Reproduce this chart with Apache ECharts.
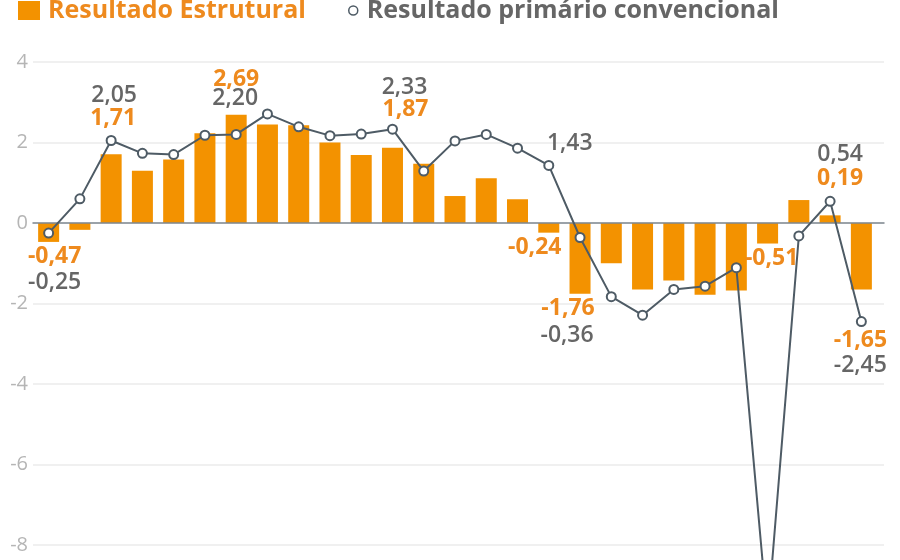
<!DOCTYPE html>
<html>
<head>
<meta charset="utf-8">
<script src="https://cdn.jsdelivr.net/npm/echarts@6/dist/echarts.min.js"></script>
<style>
html, body { margin: 0; padding: 0; background: #fff; }
#chart { width: 900px; height: 560px; }
</style>
</head>
<body>
<div id="chart"></div>
<script>
// Dados (% do PIB)
var anos = ['1997','1998','1999','2000','2001','2002','2003','2004','2005','2006','2007','2008','2009',
            '2010','2011','2012','2013','2014','2015','2016','2017','2018','2019','2020','2021','2022','2023'];
var estrutural = [-0.47, -0.17, 1.71, 1.30, 1.58, 2.23, 2.69, 2.45, 2.43, 2.00, 1.69, 1.87, 1.47,
                  0.67, 1.11, 0.59, -0.24, -1.76, -1.00, -1.65, -1.43, -1.78, -1.68, -0.51, 0.57, 0.19, -1.65];
var convencional = [-0.25, 0.60, 2.05, 1.73, 1.70, 2.18, 2.20, 2.71, 2.39, 2.17, 2.21, 2.33, 1.29,
                    2.04, 2.20, 1.86, 1.43, -0.36, -1.83, -2.29, -1.65, -1.57, -1.11, -9.80, -0.32, 0.54, -2.45];
var eixoY = { min: -10, max: 4, intervalo: 2 };

var LARANJA = '#F39200';
var LARANJA_TXT = '#EE8A1E';
var CINZA_TXT = '#666666';
var LINHA = '#4E5B65';
var FONTE = 'Open Sans';

// rótulos visíveis: índice -> [posição, dx, dy]
var rotEstrutural = {
    0: ['bottom', 6, 2], 2: ['top', 2, -23], 6: ['top', 0, -22], 11: ['top', 13, -25],
    16: ['bottom', -14, 2], 17: ['bottom', -12, 2], 23: ['bottom', 4, 2], 25: ['top', 10, -24],
    26: ['bottom', -1, 38]
};
var rotConvencional = {
    0: ['bottom', 6, 31], 2: ['top', 3, -27], 6: ['top', -1, -17], 11: ['top', 12, -23],
    16: ['top', 21, -3], 17: ['bottom', -13, 79], 25: ['top', 10, -28], 26: ['bottom', -1, 25]
};

const fmt = (v) => v.toFixed(2).replace('.', ',');

const montaDados = (valores, rotulos, cor, peso) => {
    var dados = [];
    for (var i = 0; i < valores.length; i++) {
        var item = { value: valores[i] };
        var r = rotulos[i];
        if (r) {
            item.label = {
                show: true,
                position: r[0],
                distance: 0,
                offset: [r[1], r[2]],
                color: cor,
                fontFamily: FONTE,
                fontSize: 23,
                fontWeight: peso,
                lineHeight: 26,
                formatter: (p) => fmt(p.value)
            };
        }
        dados.push(item);
    }
    return dados;
};

var grade = { top: 62, height: 563.5, left: 33, outerBoundsMode: 'none', containLabel: false };

var option = {
    animation: false,
    textStyle: { fontFamily: FONTE },
    legend: [
        {
            data: [{ name: 'Resultado Estrutural', icon: 'rect' }],
            left: 18, top: -2, padding: 0,
            itemWidth: 22, itemHeight: 19,
            selectedMode: false,
            textStyle: { color: LARANJA_TXT, fontSize: 25, fontWeight: 'bold', fontFamily: FONTE, padding: [0, 0, 0, 3] }
        },
        {
            data: [{ name: 'Resultado primário convencional', icon: 'circle' }],
            left: 348, top: -2, padding: 0,
            itemWidth: 9, itemHeight: 9,
            selectedMode: false,
            itemStyle: { color: '#fff', borderColor: LINHA, borderWidth: 1.5 },
            textStyle: { color: '#666', fontSize: 25, fontWeight: 'bold', fontFamily: FONTE, padding: [0, 0, 0, 4] }
        }
    ],
    grid: [
        Object.assign({}, grade, { right: 16 }),
        Object.assign({}, grade, { right: 23 })
    ],
    xAxis: [
        {
            gridIndex: 0, type: 'value', min: 0, max: 1, z: 3,
            axisLine: { show: true, onZero: true, lineStyle: { color: '#7F8890', width: 1.5 } },
            axisTick: { show: false }, axisLabel: { show: false }, splitLine: { show: false }
        },
        { gridIndex: 1, type: 'category', data: anos, show: false }
    ],
    yAxis: [
        {
            gridIndex: 0, type: 'value', min: eixoY.min, max: eixoY.max, interval: eixoY.intervalo,
            axisLine: { show: false }, axisTick: { show: false },
            axisLabel: { color: '#B5B5B5', fontSize: 20, fontFamily: FONTE, margin: 5 },
            splitLine: { lineStyle: { color: '#EBEBEB', width: 1.5 } }
        },
        { gridIndex: 1, type: 'value', min: eixoY.min, max: eixoY.max, interval: eixoY.intervalo, show: false }
    ],
    series: [
        {
            name: 'Resultado Estrutural',
            type: 'bar',
            xAxisIndex: 1, yAxisIndex: 1,
            barWidth: 21,
            itemStyle: { color: LARANJA },
            data: montaDados(estrutural, rotEstrutural, LARANJA_TXT, 700)
        },
        {
            name: 'Resultado primário convencional',
            type: 'line',
            xAxisIndex: 1, yAxisIndex: 1,
            z: 5,
            symbol: 'emptyCircle',
            symbolSize: 9,
            lineStyle: { color: LINHA, width: 2 },
            itemStyle: { color: LINHA, borderWidth: 1.5 },
            data: montaDados(convencional, rotConvencional, CINZA_TXT, 600)
        }
    ]
};

var grafico = echarts.init(document.getElementById('chart'));
grafico.setOption(option);
</script>
</body>
</html>
